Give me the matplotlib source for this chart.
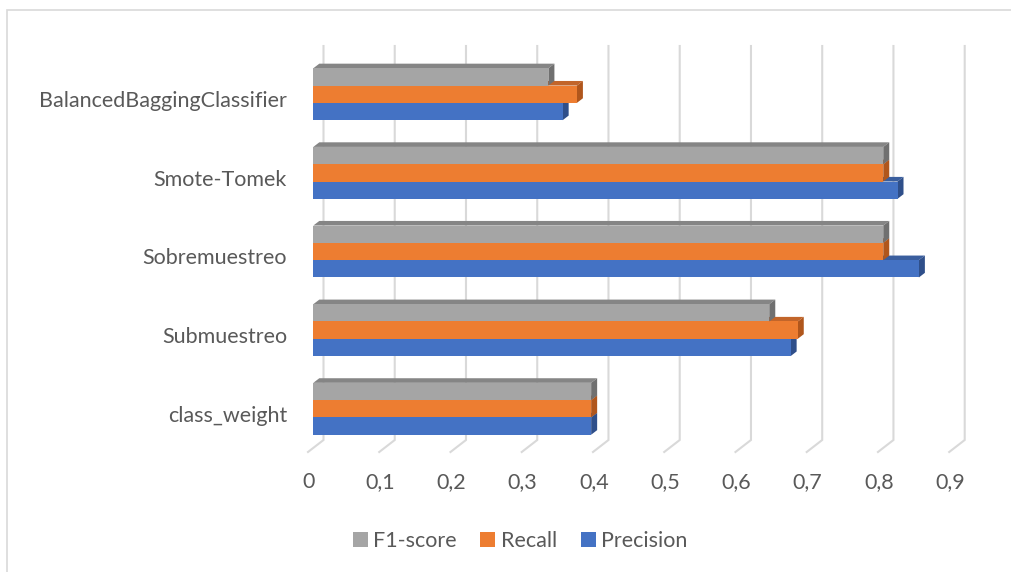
import matplotlib
matplotlib.use("Agg")
import matplotlib.pyplot as plt
import matplotlib.transforms as mtransforms
from matplotlib.patches import Polygon, Patch, Rectangle

# Metrics per balancing strategy (bottom to top)
methods = ["class_weight", "Submuestreo", "Sobremuestreo", "Smote-Tomek",
           "BalancedBaggingClassifier"]
precision = [0.39, 0.67, 0.85, 0.82, 0.35]
recall = [0.39, 0.68, 0.80, 0.80, 0.37]
f1_score = [0.39, 0.64, 0.80, 0.80, 0.33]

x_ticks = [0, 0.1, 0.2, 0.3, 0.4, 0.5, 0.6, 0.7, 0.8, 0.9]
x_tick_labels = ["0", "0,1", "0,2", "0,3", "0,4", "0,5", "0,6", "0,7", "0,8", "0,9"]

# name, values, front colour, top colour, side colour, offset inside group
series = [
    ("Precision", precision, "#4472C4", "#3A5E9E", "#2F4F8A", -1),
    ("Recall", recall, "#ED7D31", "#C2652A", "#B0561C", 0),
    ("F1-score", f1_score, "#A5A5A5", "#858585", "#707070", 1),
]

TEXT = "#595959"
GRID = "#D9D9D9"
FONT = "Lato"
FS = 15.5

W, H = 1011, 572
fig = plt.figure(figsize=(W / 100, H / 100), dpi=100)

# chart-area border
fig.add_artist(Rectangle((7 / W, -0.1), 1.2, 1 - 10 / H + 0.1,
                         transform=fig.transFigure, fill=False,
                         edgecolor=GRID, linewidth=1.2))

top_px, bot_px = 54.9, 448.1
ax = fig.add_axes([313.3 / W, (H - bot_px) / H, 641.2 / W, (bot_px - top_px) / H])
ax.set_xlim(0, 0.9)
ax.set_ylim(-0.5, 4.5)
for s in ax.spines.values():
    s.set_visible(False)
ax.patch.set_alpha(0)

fig.canvas.draw()
p0 = ax.transData.transform((0, 0))
p1 = ax.transData.transform((1, 1))
sx = p1[0] - p0[0]
sy = p1[1] - p0[1]
inv = ax.transData.inverted()


def ydata(ypx):
    return inv.transform((0, H - ypx))[1]


# back-wall gridlines and floor lines
back_dx = 10.2 / sx
floor_dx = 15.5 / sx
y_top, y_floor, y_front = ydata(46), ydata(440), ydata(452)
for v in x_ticks:
    xb = v + back_dx
    ax.plot([xb, xb, xb - floor_dx], [y_top, y_floor, y_front],
            color=GRID, linewidth=1.5, clip_on=False, zorder=0,
            solid_joinstyle="miter")

# 3D bars
bar_h = 0.22
dx = 6.0 / sx
dy = 4.6 / sy
for name, vals, front, topc, side, k in series:
    for i, v in enumerate(vals):
        y0 = i + k * bar_h - bar_h / 2
        y1 = y0 + bar_h
        ax.add_patch(Polygon([(0, y1), (v, y1), (v + dx, y1 + dy), (dx, y1 + dy)],
                             closed=True, facecolor=topc, edgecolor="none",
                             zorder=2, clip_on=False))
        ax.add_patch(Polygon([(v, y0), (v, y1), (v + dx, y1 + dy), (v + dx, y0 + dy)],
                             closed=True, facecolor=side, edgecolor="none",
                             zorder=2, clip_on=False))
        ax.barh(i + k * bar_h, v, height=bar_h, color=front, zorder=2,
                edgecolor="none", clip_on=False)

# category labels
ax.set_yticks(range(len(methods)))
ax.set_yticklabels(methods, fontsize=FS, color=TEXT, family=FONT)
ax.tick_params(axis="y", length=0, pad=19)
shift_y = mtransforms.ScaledTranslation(0, -5 / 100, fig.dpi_scale_trans)
for lab in ax.get_yticklabels():
    lab.set_transform(lab.get_transform() + shift_y)

# value axis labels under the floor
ax.set_xticks(x_ticks)
ax.set_xticklabels(x_tick_labels, fontsize=FS, color=TEXT, family=FONT)
ax.tick_params(axis="x", length=0, pad=17)
shift_x = mtransforms.ScaledTranslation(-4.5 / 100, 0, fig.dpi_scale_trans)
for lab in ax.get_xticklabels():
    lab.set_transform(lab.get_transform() + shift_x)

handles = [Patch(facecolor=c, edgecolor="none", label=n)
           for n, _, c, _, _, _ in reversed(series)]
leg = fig.legend(handles=handles, loc="center", bbox_to_anchor=(520 / W, 1 - 541 / H),
                 ncol=3, frameon=False, handlelength=0.7, handleheight=0.7,
                 handletextpad=0.25, columnspacing=1.1,
                 prop={"family": FONT, "size": FS})
for t in leg.get_texts():
    t.set_color(TEXT)

fig.savefig("out.png", dpi=100)
